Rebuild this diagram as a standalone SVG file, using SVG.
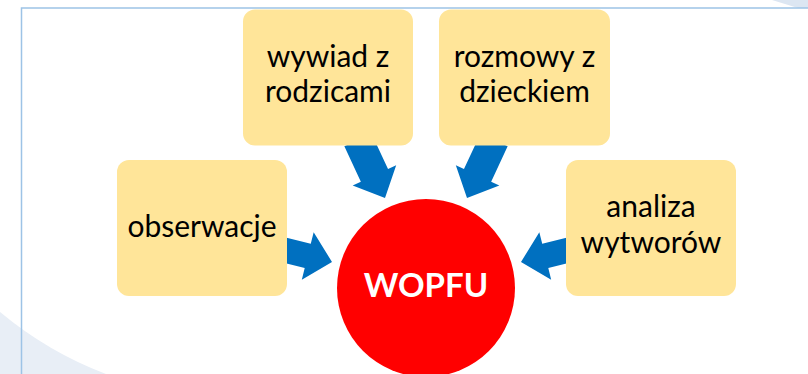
<svg xmlns="http://www.w3.org/2000/svg" width="808" height="374" viewBox="0 0 808 374">
  <defs>
    <style>
      .box { fill: #FFE599; }
      .lbl { font-family: Lato, "Open Sans", "Liberation Sans", sans-serif; font-size: 30px; fill: #000000; text-anchor: middle; }
      .hub { font-family: Lato, "Open Sans", "Liberation Sans", sans-serif; font-size: 33px; font-weight: bold; fill: #FFFFFF; text-anchor: middle; }
      .arrow { fill: #0070C0; }
      .frame { stroke: #9DC3E6; stroke-width: 1.5; fill: none; }
    </style>
    <!-- block arrow with its tip at the origin, pointing along +x -->
    <polygon id="arrowTop" points="-64,-15 -25,-15 -25,-24 0,0 -25,24 -25,15 -64,15"/>
    <polygon id="arrowSide" points="-54,-12.5 -25,-12.5 -25,-24.5 0,0 -25,24.5 -25,12.5 -54,12.5"/>
  </defs>

  <!-- background -->
  <rect x="0" y="0" width="808" height="374" fill="#FFFFFF"/>
  <path d="M0,312 Q48,352 106,374 L0,374 Z" fill="#E8EEF6"/>
  <path d="M772,0 L808,0 L808,8 L798,8 Z" fill="#DCE6F2"/>
  <path class="frame" d="M21.5,374 L21.5,8 L808,8"/>

  <!-- connectors -->
  <g id="connectors" class="arrow">
    <use href="#arrowTop" transform="translate(385,198) rotate(65)"/>
    <use href="#arrowTop" transform="translate(467,198) rotate(115)"/>
    <use href="#arrowSide" transform="translate(332,262) rotate(14)"/>
    <use href="#arrowSide" transform="translate(521,262) rotate(166)"/>
  </g>

  <g id="node-wywiad">
    <rect class="box" x="243" y="9.5" width="170" height="136" rx="12"/>
    <text class="lbl" x="328" y="67">wywiad z</text>
    <text class="lbl" x="328" y="102">rodzicami</text>
  </g>

  <g id="node-rozmowy">
    <rect class="box" x="439" y="9.5" width="171" height="136" rx="12"/>
    <text class="lbl" x="524.5" y="67">rozmowy z</text>
    <text class="lbl" x="524.5" y="102">dzieckiem</text>
  </g>

  <g id="node-obserwacje">
    <rect class="box" x="117" y="160" width="170" height="136" rx="12"/>
    <text class="lbl" x="202" y="237">obserwacje</text>
  </g>

  <g id="node-analiza">
    <rect class="box" x="566" y="160" width="170" height="136" rx="12"/>
    <text class="lbl" x="651" y="217">analiza</text>
    <text class="lbl" x="651" y="253">wytworów</text>
  </g>

  <g id="node-wopfu">
    <circle cx="426" cy="288" r="89" fill="#FF0000"/>
    <text class="hub" x="426" y="297">WOPFU</text>
  </g>
</svg>
